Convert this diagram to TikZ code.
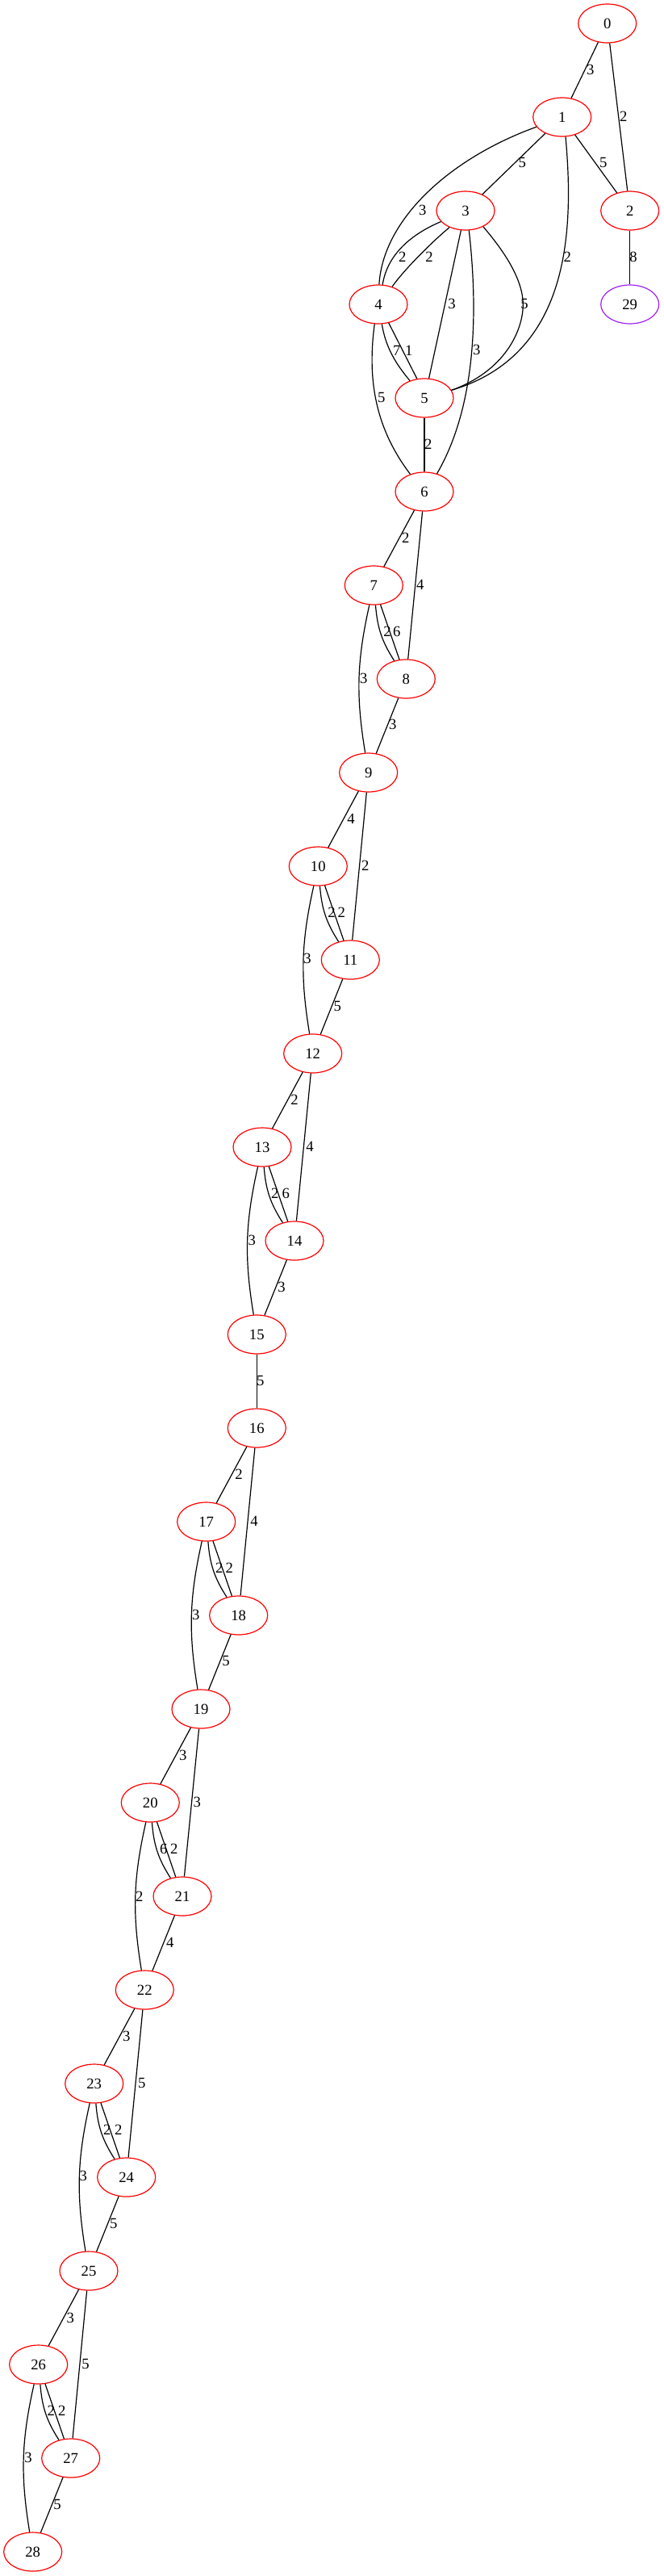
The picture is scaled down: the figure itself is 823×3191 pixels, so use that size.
\documentclass[tikz,border=0pt]{standalone}
\usepackage{fontspec}
\setmainfont{Liberation Serif}
\usetikzlibrary{shapes.geometric}
\definecolor{gvpurple}{HTML}{A020F0}
\newcommand\gvfont{\fontsize{14pt}{16pt}\selectfont}
\tikzset{
  vtx/.style={ellipse, draw=red, line width=0.9pt, minimum width=54pt, minimum height=36pt, inner sep=0pt, font=\gvfont},
  lab/.style={inner sep=0pt, font=\gvfont},
  conn/.style={line width=0.9pt, draw=black},
}
\newcommand\elab[4]{\node[lab] (#1) at (#2,-#3) {#4};}
\newcommand\grp[4]{%
  \draw[conn] (n#1) -- (n#2);
  \draw[conn] (n#1) -- (n#3);
  \draw[conn] (n#2) to[bend right=14] (n#3);
  \draw[conn] (n#2) -- (n#3);
  \draw[conn] (n#2) to[bend right=11] (n#4);
  \draw[conn] (n#3) -- (n#4);
}
\begin{document}
\begin{tikzpicture}[x=0.75pt,y=0.75pt]
\useasboundingbox (0,0) rectangle (823,-3191);
% nodes
\node[vtx] (n0) at (752.7,-29) {0};
\node[vtx] (n1) at (696.7,-145) {1};
\node[vtx] (n2) at (780.7,-261) {2};
\node[vtx] (n3) at (577,-261) {3};
\node[vtx] (n4) at (469,-377) {4};
\node[vtx,draw=gvpurple] (n29) at (780.7,-377) {29};
\node[vtx] (n5) at (526,-493) {5};
\node[vtx] (n6) at (526,-609) {6};
\node[vtx] (n7) at (463.3,-725) {7};
\node[vtx] (n8) at (503.3,-841) {8};
\node[vtx] (n9) at (456.7,-957) {9};
\node[vtx] (n10) at (394.3,-1073) {10};
\node[vtx] (n11) at (434.3,-1189) {11};
\node[vtx] (n12) at (387.7,-1305) {12};
\node[vtx] (n13) at (325,-1421) {13};
\node[vtx] (n14) at (365,-1537) {14};
\node[vtx] (n15) at (318.3,-1653) {15};
\node[vtx] (n16) at (318.3,-1769) {16};
\node[vtx] (n17) at (255.7,-1885) {17};
\node[vtx] (n18) at (295.7,-2001) {18};
\node[vtx] (n19) at (249,-2117) {19};
\node[vtx] (n20) at (186.3,-2233) {20};
\node[vtx] (n21) at (226,-2349) {21};
\node[vtx] (n22) at (179.3,-2465) {22};
\node[vtx] (n23) at (116.7,-2581) {23};
\node[vtx] (n24) at (156.7,-2697) {24};
\node[vtx] (n25) at (110,-2813) {25};
\node[vtx] (n26) at (47.7,-2929) {26};
\node[vtx] (n27) at (87.7,-3045) {27};
\node[vtx] (n28) at (40.7,-3161) {28};
% top cluster edges
\draw[conn] (n0) -- (n1);
\draw[conn] (n0) -- (n2);
\draw[conn] (n1) -- (n2);
\draw[conn] (n1) -- (n3);
\draw[conn] (n2) -- (n29);
\draw[conn] (n1.201) .. controls (560,-195) and (475,-270) .. (n4.88);
\draw[conn] (n1.280) .. controls (712,-290) and (705,-440) .. (n5.16);
\draw[conn] (n3.204) .. controls (510,-290) and (480,-315) .. (n4.78);
\draw[conn] (n3.226) .. controls (535,-300) and (500,-335) .. (n4.52);
\draw[conn] (n3.257) -- (n5.77);
\draw[conn] (n3.280) .. controls (592,-380) and (592,-500) .. (n6.55);
\coordinate (w35) at (648.3,-376.7);
\draw[conn] (n3.318) .. controls (615,-300) and (648,-340) .. (w35) .. controls (648.5,-410) and (625,-460) .. (n5.16);
\draw[conn] (n4.280) .. controls (478,-430) and (490,-450) .. (n5.130);
\draw[conn] (n4.299) -- (n5.111);
\draw[conn] (n4.259) .. controls (455,-470) and (465,-530) .. (n6.129);
\draw[conn] (n5) -- (n6);
\draw[conn] (n15) -- (n16);
% repeating groups
\grp{6}{7}{8}{9}
\grp{9}{10}{11}{12}
\grp{12}{13}{14}{15}
\grp{16}{17}{18}{19}
\grp{19}{20}{21}{22}
\grp{22}{23}{24}{25}
\grp{25}{26}{27}{28}
% edge labels
\elab{l0a}{731.7}{86.7}{3}
\elab{l0b}{772.7}{144.3}{2}
\elab{l1a}{647.3}{201.7}{5}
\elab{l1b}{747.7}{201.7}{5}
\elab{l1c}{523.7}{260}{3}
\elab{l1d}{703.3}{318.3}{2}
\elab{l3a}{498.7}{318.3}{2}
\elab{l3b}{532}{318.3}{2}
\elab{l2a}{785}{318.3}{8}
\elab{l3c}{560}{376.7}{3}
\elab{l3d}{650}{376.7}{5}
\elab{l3e}{590.7}{433.3}{3}
\elab{l4a}{491.7}{434.3}{7}
\elab{l4b}{506.7}{434.3}{1}
\elab{l4c}{472.7}{492.3}{5}
\elab{l5a}{530.7}{550}{2}
\elab{l6a}{502.7}{666.7}{2}
\elab{l6b}{520.7}{724.3}{4}
\elab{l7a}{480}{782.3}{2}
\elab{l7b}{491.7}{782.3}{6}
\elab{l7c}{450.7}{840}{3}
\elab{l8a}{486.7}{897.7}{3}
\elab{l9a}{435}{1014.3}{4}
\elab{l9b}{452.7}{1072.7}{2}
\elab{l10a}{411}{1130}{2}
\elab{l10b}{423.3}{1130}{2}
\elab{l10c}{381}{1187.7}{3}
\elab{l11a}{418.3}{1246}{5}
\elab{l12a}{365}{1362.3}{2}
\elab{l12b}{384}{1420}{4}
\elab{l13a}{340.7}{1478.3}{2}
\elab{l13b}{354.3}{1478.3}{6}
\elab{l13c}{312.3}{1536}{3}
\elab{l14a}{349}{1594}{3}
\elab{l15a}{322.7}{1710}{5}
\elab{l16a}{296}{1826}{2}
\elab{l16b}{315}{1884.3}{4}
\elab{l17a}{271.7}{1942.7}{2}
\elab{l17b}{284.3}{1942.7}{2}
\elab{l17c}{242.7}{2000}{3}
\elab{l18a}{280}{2057.7}{5}
\elab{l19a}{226.7}{2174}{3}
\elab{l19b}{244.3}{2232.3}{3}
\elab{l20a}{202.7}{2290.7}{6}
\elab{l20b}{215.7}{2290.7}{2}
\elab{l20c}{172.7}{2349}{2}
\elab{l21a}{210.7}{2406.7}{4}
\elab{l22a}{156.7}{2522.7}{3}
\elab{l22b}{175.7}{2580.7}{5}
\elab{l23a}{132.7}{2638.3}{2}
\elab{l23b}{146.7}{2638.3}{2}
\elab{l23c}{103.3}{2695}{3}
\elab{l24a}{140.7}{2754}{5}
\elab{l25a}{87.3}{2871}{3}
\elab{l25b}{106}{2928.3}{5}
\elab{l26a}{63.3}{2986}{2}
\elab{l26b}{76.7}{2986}{2}
\elab{l26c}{35}{3044}{3}
\elab{l27a}{71}{3102.3}{5}
\end{tikzpicture}
\end{document}
